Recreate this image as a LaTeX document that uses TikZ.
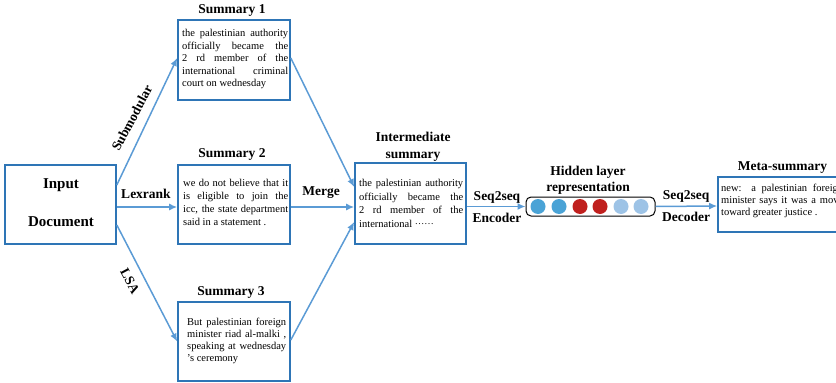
\documentclass[tikz,border=0pt]{standalone}
\usepackage{fontspec}
\setmainfont{Liberation Serif}
\usetikzlibrary{arrows.meta}
\definecolor{boxblue}{HTML}{2E75B6}
\definecolor{arrblue}{HTML}{5B9BD5}
\definecolor{cblue}{HTML}{4AA3D6}
\definecolor{cred}{HTML}{C0201E}
\definecolor{clight}{HTML}{9DC3E6}
\tikzset{
  box/.style={draw=boxblue, line width=1.6pt, rectangle, inner sep=0pt},
  arr/.style={draw=arrblue, line width=1.5pt, -{Latex[length=8pt,width=7pt]}},
  body/.style={font=\fontsize{10.5}{13}\selectfont, align=justify, inner sep=0pt, anchor=base west},
  ttl/.style={font=\bfseries\fontsize{13.5}{16}\selectfont, inner sep=0pt, align=center},
  lbl/.style={font=\bfseries\fontsize{13.5}{16}\selectfont, inner sep=0pt, align=center},
  dot/.style={circle, minimum size=15pt, inner sep=0pt, fill=#1}
}
\begin{document}
\begin{tikzpicture}[x=1pt,y=-1pt]
\useasboundingbox (0,0) rectangle (836,383);
\clip (0,0) rectangle (836,383);

% boxes
\node[box, minimum width=111pt, minimum height=79pt] (in) at (60.5,204.5) {};
\node[box, minimum width=112pt, minimum height=80pt] (s1) at (234,60) {};
\node[box, minimum width=112pt, minimum height=79pt] (s2) at (234,204.5) {};
\node[box, minimum width=112pt, minimum height=79pt] (s3) at (234,341.5) {};
\node[box, minimum width=111pt, minimum height=81pt] (im) at (410.5,203.5) {};
\node[draw=black, line width=1pt, rounded corners=5pt, minimum width=129pt, minimum height=19pt, inner sep=0pt] (hid) at (590.5,206.5) {};
\node[box, minimum width=128pt, minimum height=55pt] (meta) at (782,204.5) {};

% input text
\node[font=\bfseries\fontsize{15}{38}\selectfont, align=center, inner sep=0pt] (intxt) at (61,203) {Input\\Document};

% titles
\node[ttl] (t1) at (232,10) {Summary 1};
\node[ttl] (t2) at (232,154) {Summary 2};
\node[ttl] (t3) at (231,292) {Summary 3};
\node[ttl, font=\bfseries\fontsize{13.5}{17}\selectfont] (ti) at (413,146.5) {Intermediate\\summary};
\node[ttl, font=\bfseries\fontsize{13.5}{16}\selectfont] (th) at (588,180) {Hidden layer\\representation};
\node[ttl] (tm) at (782.5,168) {Meta-summary};

% body texts
\node[body, text width=106pt, font=\fontsize{10.5}{12.5}\selectfont] (b1) at (182,36.5) {the palestinian authority\linebreak officially became the\linebreak 2 rd member of the\linebreak international criminal\linebreak court on wednesday};
\node[body, text width=105pt] (b2) at (183,186.5) {we do not believe that it\linebreak is eligible to join the\linebreak icc, the state department\linebreak said in a statement .};
\node[body, text width=99pt, font=\fontsize{10.5}{12}\selectfont] (b3) at (187,325) {But palestinian foreign\linebreak minister riad al-malki ,\linebreak speaking at wednesday\linebreak 's ceremony};
\node[body, text width=104pt, font=\fontsize{10.5}{13.5}\selectfont] (bi) at (359,186.8) {the palestinian authority\linebreak officially became the\linebreak 2 rd member of the\linebreak international \raisebox{2.5pt}{\fontsize{9.5}{9.5}\selectfont ……}};
\node[body, text width=122pt, font=\fontsize{10.5}{12}\selectfont] (bm) at (721,191.5) {new: a palestinian foreign\linebreak minister says it was a move\linebreak toward greater justice .};

% hidden units
\node[dot=cblue] (c1) at (538,206.5) {};
\node[dot=cblue] (c2) at (559,206.5) {};
\node[dot=cred] (c3) at (580,206.5) {};
\node[dot=cred] (c4) at (600,206.5) {};
\node[dot=clight] (c5) at (621,206.5) {};
\node[dot=clight] (c6) at (641,206.5) {};

% connectors
\draw[arr] ([yshift=19.5pt]in.east) -- ([yshift=2pt]s1.west);
\draw[arr] ([yshift=-2.5pt]in.east) -- ([yshift=-2.5pt]s2.west);
\draw[arr] ([yshift=-20.5pt]in.east) -- (s3.west);
\draw[arr] ([yshift=2pt]s1.east) -- ([yshift=16.5pt]im.west);
\draw[arr] ([yshift=-2.5pt]s2.east) -- ([yshift=-3.5pt]im.west);
\draw[arr] ([yshift=1.5pt]s3.east) -- ([yshift=-18.5pt]im.west);
\draw[arr] ([yshift=-3pt]im.east) -- (hid.west);
\draw[arr] (hid.east) -- ([yshift=-1.5pt]meta.west);

% edge labels
\node[lbl, rotate=62] (lsub) at (132,118) {Submodular};
\node[lbl] (llex) at (146,194) {Lexrank};
\node[lbl, rotate=-62] (llsa) at (130,281) {LSA};
\node[lbl] (lmer) at (321,193) {Merge};
\node[lbl, font=\bfseries\fontsize{13.5}{22}\selectfont] (lenc) at (497,207) {Seq2seq\\Encoder};
\node[lbl, font=\bfseries\fontsize{13.5}{22}\selectfont] (ldec) at (686,206) {Seq2seq\\Decoder};
\end{tikzpicture}
\end{document}
